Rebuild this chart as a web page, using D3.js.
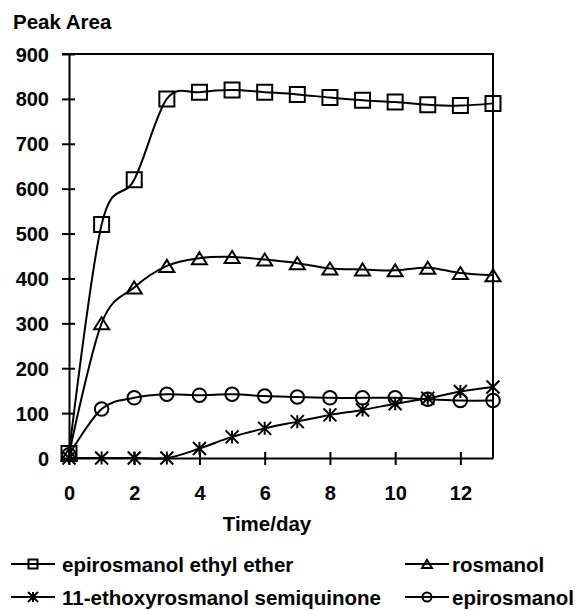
<!DOCTYPE html>
<html>
<head>
<meta charset="utf-8">
<script src="https://cdn.jsdelivr.net/npm/d3@7"></script>
<style>
  body { margin: 0; background: #fff; }
  text { font-family: "Liberation Sans", Arial, sans-serif; font-weight: bold; fill: #000; }
</style>
</head>
<body>
<svg id="chart" width="577" height="610"></svg>
<script>
// Peak area of each compound over storage time (days)
const days        = [0, 1, 2, 3, 4, 5, 6, 7, 8, 9, 10, 11, 12, 13];
const ethylEther  = [10, 520, 620, 800, 815, 820, 815, 810, 803, 797, 793, 787, 785, 790];
const rosmanol    = [8, 300, 380, 428, 445, 448, 442, 434, 422, 420, 418, 424, 412, 407];
const semiquinone = [0, 0, 0, 0, 21, 47, 66, 81, 96, 107, 121, 133, 148, 158];
const epirosmanol = [7, 109, 134, 142, 140, 142, 138, 136, 134, 134, 134, 131, 128, 128];

const seriesNames   = ["epirosmanol ethyl ether", "rosmanol", "11-ethoxyrosmanol semiquinone", "epirosmanol"];
const seriesMarkers = ["square", "triangle", "asterisk", "circle"];
const seriesValues  = [ethylEther, rosmanol, semiquinone, epirosmanol];

const yTicks = [0, 100, 200, 300, 400, 500, 600, 700, 800, 900];
const xTicks = [0, 2, 4, 6, 8, 10, 12];

const svg = d3.select("#chart");
const plot = { left: 69, right: 493, top: 54, bottom: 458 };

const x = d3.scaleLinear().domain([0, 13]).range([plot.left, plot.right]);
const y = d3.scaleLinear().domain([0, 900]).range([plot.bottom, plot.top]);

// marker outline paths centred on the origin
function markerPath(type, s) {
  const h = s / 2;
  switch (type) {
    case "square":
      return `M${-h},${-h}H${h}V${h}H${-h}Z`;
    case "triangle": {
      const th = s * 0.8 / 2;
      return `M0,${-th}L${h},${th}L${-h},${th}Z`;
    }
    case "circle":
      return `M${h},0A${h},${h} 0 1,1 ${-h},0A${h},${h} 0 1,1 ${h},0Z`;
    case "asterisk":
      return `M${-h},${-h}L${h},${h}M${-h},${h}L${h},${-h}M0,${-h}V${h}`;
  }
}
const markerSize = { square: 15, triangle: 15, circle: 13.5, asterisk: 13 };
const legendSize = { square: 9, triangle: 10, circle: 9, asterisk: 10 };

// axes
const yAxis = d3.axisLeft(y).tickValues(yTicks).tickSize(6).tickSizeOuter(0);
const gy = svg.append("g").attr("transform", `translate(${plot.left},0)`).call(yAxis);
gy.attr("font-family", null).attr("font-size", null);
gy.select(".domain").attr("stroke", "#000").attr("stroke-width", 2);
gy.selectAll(".tick line").attr("x1", -7).attr("x2", 6).attr("stroke", "#000").attr("stroke-width", 2);
gy.selectAll(".tick text")
  .attr("x", -20).attr("dy", "0.35em")
  .style("font-size", "20px").attr("fill", "#000");

const xAxis = d3.axisBottom(x).tickValues(xTicks).tickSize(6).tickSizeOuter(0);
const gx = svg.append("g").attr("transform", `translate(0,${plot.bottom})`).call(xAxis);
gx.attr("font-family", null).attr("font-size", null);
gx.select(".domain").attr("stroke", "#000").attr("stroke-width", 2);
gx.selectAll(".tick line").attr("y1", -6).attr("y2", 7).attr("stroke", "#000").attr("stroke-width", 2);
gx.selectAll(".tick text")
  .attr("y", 42).attr("dy", 0)
  .style("font-size", "20px").attr("fill", "#000");

// plot frame (top and right edges)
svg.append("path")
  .attr("d", `M${plot.left - 7},${plot.top}H${plot.right}V${plot.bottom}`)
  .attr("fill", "none").attr("stroke", "#000").attr("stroke-width", 2);

// axis titles
svg.append("text").attr("x", 13).attr("y", 29).style("font-size", "20.5px").text("Peak Area");
svg.append("text").attr("x", 267).attr("y", 531).attr("text-anchor", "middle")
  .style("font-size", "20.5px").text("Time/day");

// smoothed series lines and markers
const line = d3.line()
  .x((d, i) => x(days[i]))
  .y(d => y(d))
  .curve(d3.curveCardinal.tension(0));

seriesValues.forEach((vals, si) => {
  const g = svg.append("g");
  g.append("path").attr("d", line(vals))
    .attr("fill", "none").attr("stroke", "#000").attr("stroke-width", 2);
  const type = seriesMarkers[si];
  g.selectAll("path.m").data(vals).join("path").attr("class", "m")
    .attr("transform", (d, i) => `translate(${x(days[i])},${y(d)})`)
    .attr("d", markerPath(type, markerSize[type]))
    .attr("fill", "none").attr("stroke", "#000").attr("stroke-width", 2);
});

// legend: two rows, two columns
const legendCols = [{ lx: 11, tx: 62 }, { lx: 405, tx: 452 }];
const legendRows = [564, 597];
seriesNames.forEach((name, i) => {
  const col = legendCols[i % 2], rowY = legendRows[Math.floor(i / 2)];
  const g = svg.append("g");
  const cx = col.lx + 22;
  g.append("line").attr("x1", col.lx).attr("x2", col.lx + 44).attr("y1", rowY).attr("y2", rowY)
    .attr("stroke", "#000").attr("stroke-width", 2);
  const type = seriesMarkers[i];
  g.append("path").attr("transform", `translate(${cx},${rowY})`)
    .attr("d", markerPath(type, legendSize[type]))
    .attr("fill", "none").attr("stroke", "#000").attr("stroke-width", 2);
  g.append("text").attr("x", col.tx).attr("y", rowY + 8).style("font-size", "20.5px").text(name);
});
</script>
</body>
</html>
